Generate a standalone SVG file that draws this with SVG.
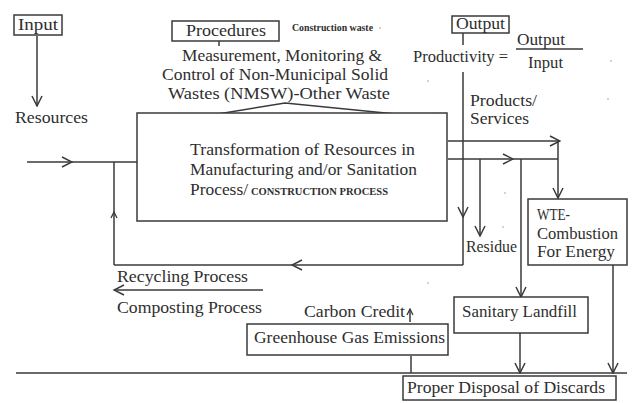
<svg xmlns="http://www.w3.org/2000/svg" width="635" height="403" viewBox="0 0 635 403">
  <style>
    .box { fill: #ffffff; stroke: #3a3a3a; stroke-width: 1.5; }
    .ln { fill: none; stroke: #3a3a3a; stroke-width: 1.5; }
    .arr { marker-end: url(#chev); }
    text { font-family: "Liberation Serif", "Times New Roman", serif; font-size: 16px; fill: #2e2e2e; }
    .sm { font-size: 9.5px; font-weight: bold; }
    .big { font-size: 17px; }
    .speck { fill: #9a9a9a; }
  </style>
  <defs>
    <marker id="chev" viewBox="0 0 12 12" refX="11" refY="6" markerWidth="12" markerHeight="12" markerUnits="userSpaceOnUse" orient="auto-start-reverse">
      <path d="M1,1 L11,6 L1,11" fill="none" stroke="#3a3a3a" stroke-width="1.5"/>
    </marker>
    <marker id="chevSm" viewBox="0 0 8 8" refX="7" refY="4" markerWidth="8" markerHeight="8" markerUnits="userSpaceOnUse" orient="auto">
      <path d="M1,1 L7,4 L1,7" fill="none" stroke="#3a3a3a" stroke-width="1.3"/>
    </marker>
  </defs>

  <rect width="635" height="403" fill="#ffffff"/>

  <!-- connectors -->
  <g id="connectors">
    <!-- input drops to resources -->
    <line class="ln arr" x1="37" y1="36" x2="37" y2="106"/>
    <!-- header ticks -->
    <line class="ln" x1="219" y1="41" x2="219" y2="46"/>
    <line class="ln" x1="463" y1="33" x2="463" y2="45"/>
    <!-- double-headed control span over the process box -->
    <path class="ln" d="M175,121 L285,103 L446,119" marker-start="url(#chev)" marker-end="url(#chev)"/>
    <!-- resources feed into the process -->
    <line class="ln arr" x1="27" y1="162" x2="72" y2="162"/>
    <line class="ln" x1="72" y1="162" x2="137" y2="162"/>
    <!-- recycling loop -->
    <line class="ln arr" x1="463" y1="72" x2="463" y2="217"/>
    <line class="ln" x1="463" y1="217" x2="463" y2="265"/>
    <line class="ln arr" x1="463" y1="265" x2="292" y2="265"/>
    <line class="ln" x1="292" y1="265" x2="114" y2="265"/>
    <line class="ln" x1="114" y1="265" x2="114" y2="212" marker-end="url(#chevSm)"/>
    <line class="ln" x1="114" y1="212" x2="114" y2="162"/>
    <!-- outputs leaving the process -->
    <line class="ln arr" x1="448" y1="141" x2="560" y2="141"/>
    <line class="ln arr" x1="558" y1="141" x2="558" y2="198"/>
    <line class="ln arr" x1="448" y1="159" x2="513" y2="159"/>
    <line class="ln" x1="513" y1="159" x2="558" y2="159"/>
    <line class="ln arr" x1="480" y1="159" x2="480" y2="236"/>
    <line class="ln arr" x1="521" y1="159" x2="521" y2="297"/>
    <!-- discards -->
    <line class="ln arr" x1="613" y1="265" x2="613" y2="373"/>
    <line class="ln arr" x1="520" y1="333" x2="520" y2="373"/>
    <line class="ln" x1="411" y1="356" x2="411" y2="373"/>
    <line class="ln" x1="410" y1="322" x2="410" y2="309" marker-end="url(#chevSm)"/>
    <line class="ln" x1="16" y1="373" x2="627" y2="373"/>
    <!-- recycling / composting return -->
    <line class="ln arr" x1="263" y1="290" x2="114" y2="290"/>
  </g>

  <!-- input -->
  <g id="input">
    <rect class="box" x="14" y="15" width="48" height="20"/>
    <text x="18" y="30" textLength="40" lengthAdjust="spacingAndGlyphs">Input</text>
  </g>
  <g id="resources">
    <text x="15" y="123" textLength="73" lengthAdjust="spacingAndGlyphs">Resources</text>
  </g>

  <!-- procedures -->
  <g id="procedures">
    <rect class="box" x="172" y="21" width="107" height="20"/>
    <text x="186" y="36" textLength="80" lengthAdjust="spacingAndGlyphs">Procedures</text>
  </g>
  <g id="construction-waste">
    <text class="sm" x="292" y="31" textLength="81" lengthAdjust="spacingAndGlyphs">Construction waste</text>
  </g>
  <g id="nmsw">
    <text class="big" x="182" y="61" textLength="200" lengthAdjust="spacingAndGlyphs">Measurement, Monitoring &amp;</text>
    <text class="big" x="162" y="80" textLength="226" lengthAdjust="spacingAndGlyphs">Control of  Non-Municipal Solid</text>
    <text class="big" x="168" y="99" textLength="222" lengthAdjust="spacingAndGlyphs">Wastes (NMSW)-Other Waste</text>
  </g>

  <!-- output / productivity -->
  <g id="output">
    <rect class="box" x="452" y="16" width="57" height="17"/>
    <text x="456" y="29" textLength="49" lengthAdjust="spacingAndGlyphs">Output</text>
  </g>
  <g id="productivity">
    <text x="413" y="62" textLength="95" lengthAdjust="spacingAndGlyphs">Productivity =</text>
    <text x="517" y="45" textLength="48" lengthAdjust="spacingAndGlyphs">Output</text>
    <line class="ln" x1="516" y1="49" x2="583" y2="49"/>
    <text x="528" y="68" textLength="35" lengthAdjust="spacingAndGlyphs">Input</text>
  </g>
  <g id="products">
    <text x="470" y="106" textLength="67" lengthAdjust="spacingAndGlyphs">Products/</text>
    <text x="470" y="124" textLength="59" lengthAdjust="spacingAndGlyphs">Services</text>
  </g>

  <!-- transformation process -->
  <g id="transformation">
    <rect class="box" x="137" y="113" width="310" height="108" fill="none"/>
    <text class="big" x="190" y="155" textLength="225" lengthAdjust="spacingAndGlyphs">Transformation of Resources in</text>
    <text class="big" x="190" y="175" textLength="227" lengthAdjust="spacingAndGlyphs">Manufacturing and/or Sanitation</text>
    <text class="big" x="190" y="195"><tspan textLength="58" lengthAdjust="spacingAndGlyphs">Process/</tspan><tspan dx="3" font-size="9.5" font-weight="bold" textLength="137" lengthAdjust="spacingAndGlyphs">CONSTRUCTION PROCESS</tspan></text>
  </g>

  <g id="residue">
    <text x="466" y="252" textLength="51" lengthAdjust="spacingAndGlyphs">Residue</text>
  </g>

  <g id="wte">
    <rect class="box" x="528" y="199" width="99" height="66"/>
    <text x="537" y="220" textLength="33" lengthAdjust="spacingAndGlyphs">WTE-</text>
    <text x="537" y="239" textLength="81" lengthAdjust="spacingAndGlyphs">Combustion</text>
    <text x="537" y="257" textLength="78" lengthAdjust="spacingAndGlyphs">For Energy</text>
  </g>

  <g id="recycling">
    <text x="117" y="282" textLength="131" lengthAdjust="spacingAndGlyphs">Recycling Process</text>
  </g>
  <g id="composting">
    <text x="117" y="313" textLength="145" lengthAdjust="spacingAndGlyphs">Composting Process</text>
  </g>

  <g id="carbon-credit">
    <text x="304" y="317" textLength="101" lengthAdjust="spacingAndGlyphs">Carbon Credit</text>
  </g>
  <g id="greenhouse">
    <rect class="box" x="247" y="324" width="201" height="31"/>
    <text x="254" y="343" textLength="191" lengthAdjust="spacingAndGlyphs">Greenhouse Gas Emissions</text>
  </g>

  <g id="landfill">
    <rect class="box" x="454" y="297" width="134" height="36"/>
    <text x="462" y="317" textLength="115" lengthAdjust="spacingAndGlyphs">Sanitary Landfill</text>
  </g>

  <g id="disposal">
    <rect class="box" x="403" y="376" width="213" height="24"/>
    <text x="407" y="393" textLength="198" lengthAdjust="spacingAndGlyphs">Proper Disposal of Discards</text>
  </g>

  <!-- stray specks -->
  <g id="specks">
    <circle class="speck" cx="380" cy="28" r="0.8"/>
    <circle class="speck" cx="611" cy="61" r="0.8"/>
    <circle class="speck" cx="428" cy="81" r="0.8"/>
    <circle class="speck" cx="608" cy="99" r="0.8"/>
    <circle class="speck" cx="505" cy="193" r="0.8"/>
    <circle class="speck" cx="503" cy="227" r="0.8"/>
    <circle class="speck" cx="428" cy="283" r="0.8"/>
  </g>
</svg>
